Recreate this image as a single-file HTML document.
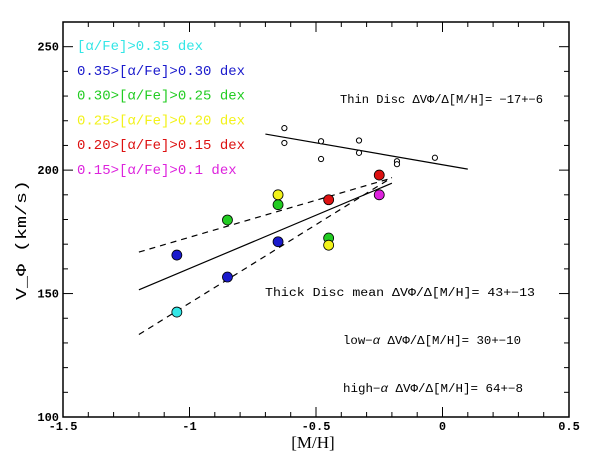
<!DOCTYPE html>
<html><head><meta charset="utf-8"><style>
body{margin:0;background:#fff}
svg{display:block;font-family:"Liberation Mono",monospace}
</style></head><body>
<svg id="chart" width="600" height="469" viewBox="0 0 600 469" xmlns="http://www.w3.org/2000/svg">
<g id="axes"></g>
<g id="lines"></g>
<g id="pts"></g>
<g id="legend" font-size="14"></g>
<g font-size="11.5" fill="#000">
<text x="340" y="103" textLength="203" lengthAdjust="spacingAndGlyphs">Thin Disc ΔVΦ/Δ[M/H]= −17+−6</text>
<text x="265" y="296" textLength="270" lengthAdjust="spacingAndGlyphs">Thick Disc  mean ΔVΦ/Δ[M/H]= 43+−13</text>
<text x="343" y="344" textLength="178" lengthAdjust="spacingAndGlyphs">low−<tspan font-style="italic">α</tspan> ΔVΦ/Δ[M/H]= 30+−10</text>
<text x="343" y="392" textLength="180" lengthAdjust="spacingAndGlyphs">high−<tspan font-style="italic">α</tspan> ΔVΦ/Δ[M/H]= 64+−8</text>
</g>
<text x="313" y="448" font-size="17" font-family="Liberation Serif, serif" text-anchor="middle">[M/H]</text>
<text transform="translate(26,240) rotate(-90)" font-size="15" text-anchor="middle" textLength="120" lengthAdjust="spacingAndGlyphs">V_Φ (km/s)</text>
</svg>
<script>
const xTicks=[-1.5,-1,-0.5,0,0.5];
const xTickLabels=["-1.5","-1","-0.5","0","0.5"];
const yTicks=[100,150,200,250];
const yTickLabels=["100","150","200","250"];
const seriesNames=["cyan","blue","green","yellow","red","magenta"];
const seriesColors=["#33e6e6","#1a1acc","#22cc22","#f2f21a","#dd1111","#dd22dd"];
const seriesX=[[-1.05],[-1.05,-0.85,-0.65],[-0.85,-0.65,-0.45],[-0.65,-0.45],[-0.45,-0.25],[-0.25]];
const seriesY=[[142.5],[165.6,156.7,171],[179.8,186,172.5],[190,169.6],[188,198],[190]];
const thinX=[-0.625,-0.625,-0.48,-0.48,-0.33,-0.33,-0.18,-0.18,-0.03];
const thinY=[217,211,211.7,204.5,212,207,203.6,202.4,205];
const legendLabels=["[α/Fe]>0.35 dex","0.35>[α/Fe]>0.30 dex","0.30>[α/Fe]>0.25 dex","0.25>[α/Fe]>0.20 dex","0.20>[α/Fe]>0.15 dex","0.15>[α/Fe]>0.1 dex"];
const fitNames=["thin-disc-fit","thick-mean-fit","low-alpha-fit","high-alpha-fit"];
const fitX=[[-0.7,0.1],[-1.2,-0.2],[-1.2,-0.2],[-1.2,-0.2]];
const fitY=[[214.6,200.4],[151.5,194.7],[166.8,196.8],[133.4,197]];
const fitDash=[false,false,true,true];

const X0=63,X1=569,Y0=417,Y1=22,xmin=-1.5,xmax=0.5,ymin=100,ymax=260;
const sx=v=>X0+(v-xmin)/(xmax-xmin)*(X1-X0);
const sy=v=>Y0-(v-ymin)/(ymax-ymin)*(Y0-Y1);
const NS="http://www.w3.org/2000/svg";
function mk(t,p,a){const e=document.createElementNS(NS,t);for(const k in a)e.setAttribute(k,a[k]);p.appendChild(e);return e;}
const ax=document.getElementById('axes');
const fr=mk('rect',ax,{x:X0,y:Y1,width:X1-X0,height:Y0-Y1,fill:'none',stroke:'#000','stroke-width':1.5});


for(let i=0;i<=20;i++){const v=xmin+i*0.1,x=sx(v),L=(i%5==0)?10:5;
 mk('line',ax,{x1:x,x2:x,y1:Y0,y2:Y0-L,stroke:'#000'});
 mk('line',ax,{x1:x,x2:x,y1:Y1,y2:Y1+L,stroke:'#000'});}
for(let v=ymin;v<=ymax;v+=10){const y=sy(v),L=(v%50==0)?10:5;
 mk('line',ax,{x1:X0,x2:X0+L,y1:y,y2:y,stroke:'#000'});
 mk('line',ax,{x1:X1,x2:X1-L,y1:y,y2:y,stroke:'#000'});}
xTicks.forEach((v,i)=>{const t=mk('text',ax,{x:sx(v),y:Y0+13,'font-size':12,'font-weight':'bold','text-anchor':'middle'});t.textContent=xTickLabels[i];
 
 });
yTicks.forEach((v,i)=>{const t=mk('text',ax,{x:X0-4,y:sy(v)+4,'font-size':12,'font-weight':'bold','text-anchor':'end'});t.textContent=yTickLabels[i];
 
 });
const lg=document.getElementById('lines');
fitNames.forEach((n,i)=>{const l=mk('line',lg,{x1:sx(fitX[i][0]),y1:sy(fitY[i][0]),x2:sx(fitX[i][1]),y2:sy(fitY[i][1]),stroke:'#000','stroke-width':1.2});
 if(fitDash[i])l.setAttribute('stroke-dasharray','6,5');
 
 });
const pg=document.getElementById('pts');
thinX.forEach((v,i)=>{const c=mk('circle',pg,{cx:sx(v),cy:sy(thinY[i]),r:2.6,fill:'#fff',stroke:'#000','stroke-width':1});
 
 });
seriesX.forEach((xs,s)=>xs.forEach((v,i)=>{const c=mk('circle',pg,{cx:sx(v),cy:sy(seriesY[s][i]),r:5,fill:seriesColors[s],stroke:'#000','stroke-width':0.8});
 
 }));
const le=document.getElementById('legend');
legendLabels.forEach((t,i)=>{const e=mk('text',le,{x:77,y:50+i*24.8,fill:seriesColors[i]});e.textContent=t;
 
 });
</script>
</body></html>
